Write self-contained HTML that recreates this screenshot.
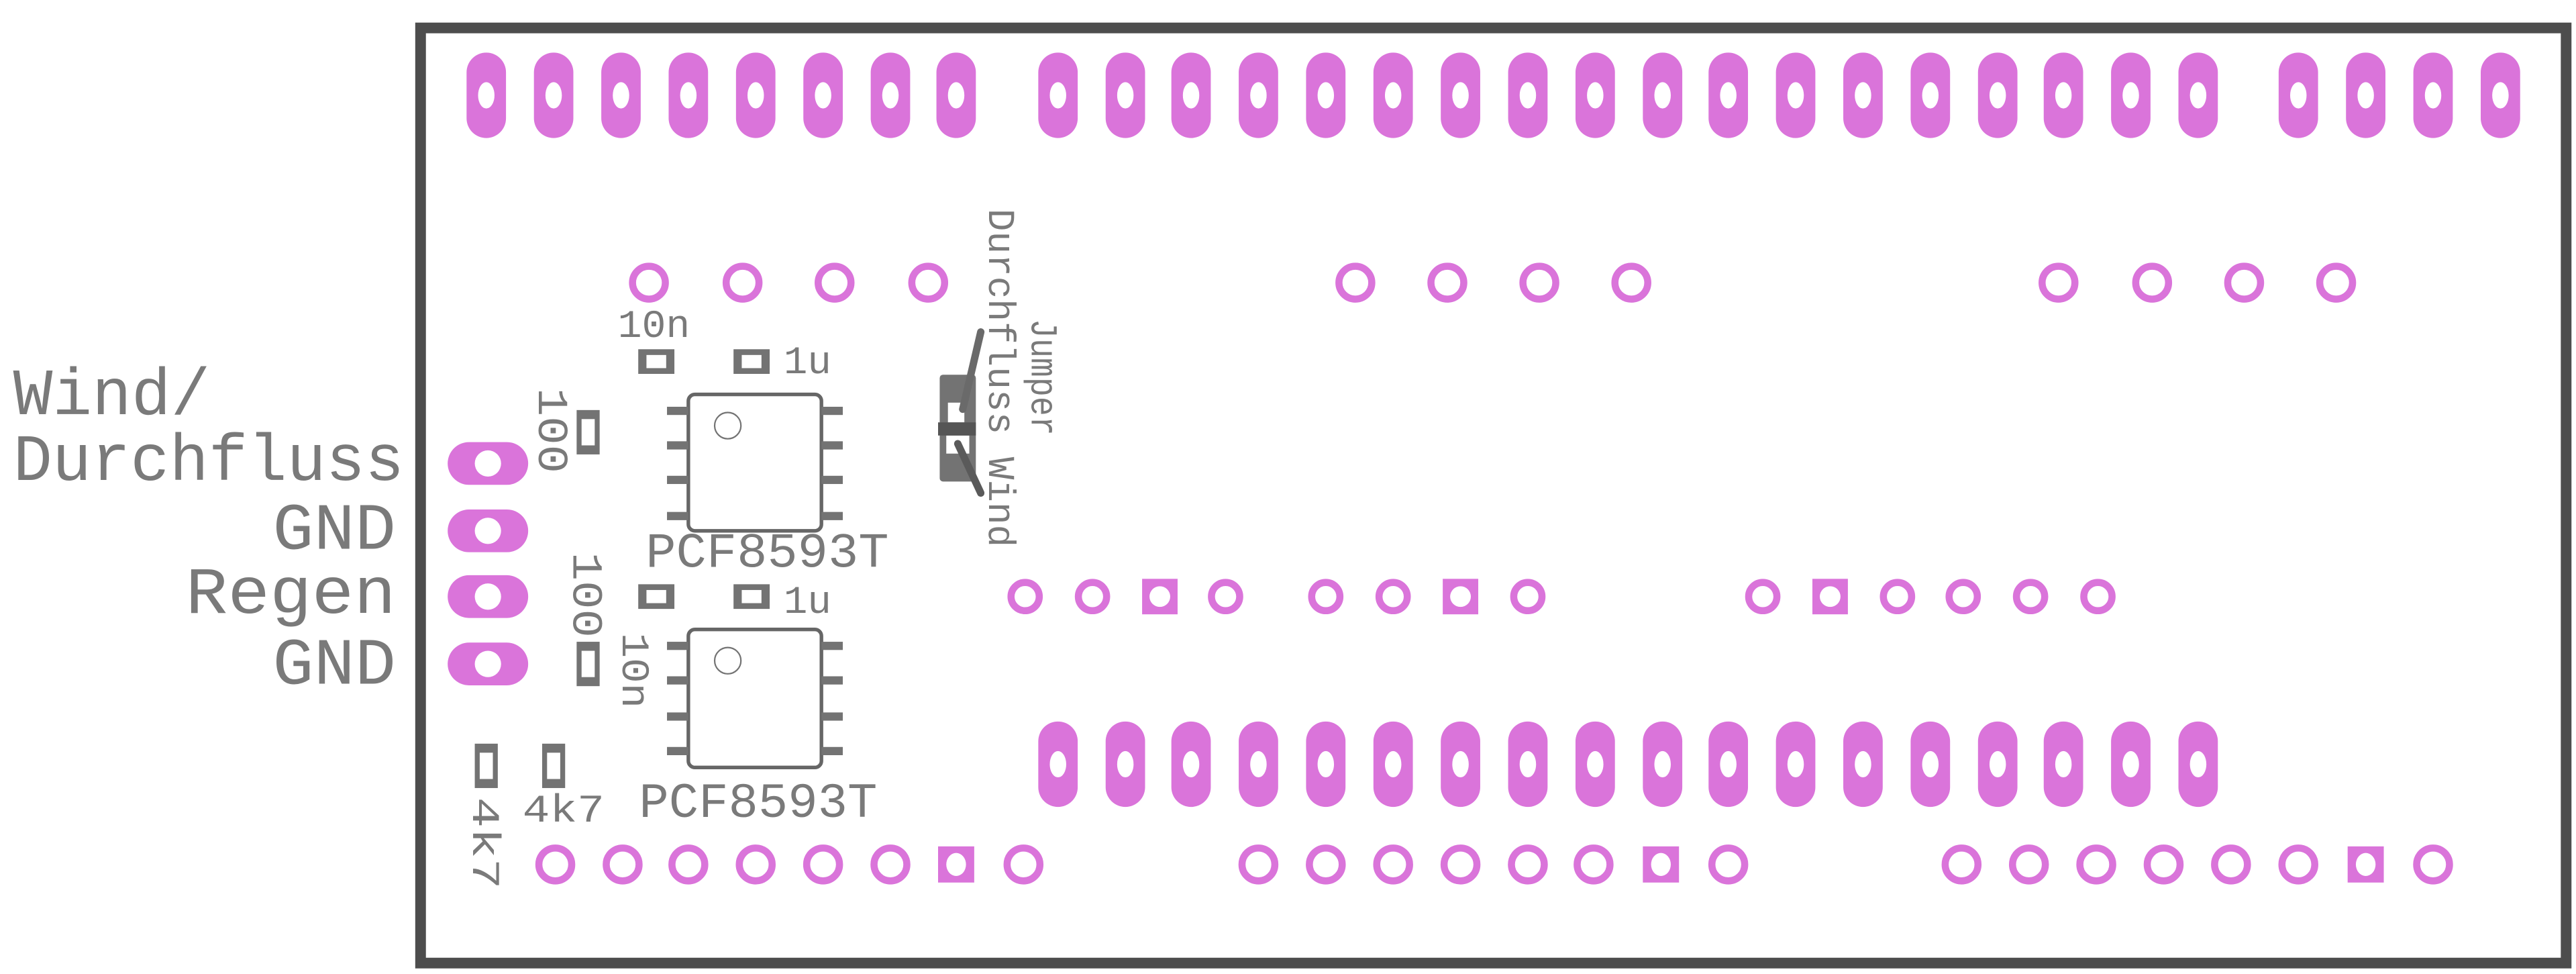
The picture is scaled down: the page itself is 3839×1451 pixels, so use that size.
<!DOCTYPE html>
<html><head><meta charset="utf-8"><style>html,body{margin:0;padding:0;background:#fff}svg{display:block}</style></head>
<body>
<svg width="3839" height="1451" viewBox="0 0 1568 592.65" preserveAspectRatio="none" xmlns="http://www.w3.org/2000/svg">
<defs>
<g id="ov"><rect x="-12" y="-26" width="24" height="52" rx="12" fill="#da74da"/><ellipse cx="0" cy="0" rx="5" ry="8" fill="#fff"/></g>
<g id="rb"><circle r="10" fill="none" stroke="#da74da" stroke-width="4.3"/></g>
<g id="sb"><rect x="-11" y="-11" width="22" height="22" fill="#da74da"/><ellipse rx="6" ry="7" fill="#fff"/></g>
<g id="rs"><circle r="8.6" fill="none" stroke="#da74da" stroke-width="4.3"/></g>
<g id="ss"><rect x="-10.8" y="-10.8" width="21.6" height="21.6" fill="#da74da"/><circle r="6.3" fill="#fff"/></g>
<g id="lp"><rect x="-24.5" y="-13" width="49" height="26" rx="13" fill="#da74da"/><circle r="8" fill="#fff"/></g>
<g id="ch"><rect x="-11" y="-7.5" width="22" height="15" fill="#737373"/><rect x="-6" y="-4" width="12" height="8" fill="#fff"/></g>
<g id="rv"><rect x="-7" y="-13.5" width="14" height="27" fill="#737373"/><rect x="-4" y="-8" width="8" height="16" fill="#fff"/></g>
<g id="ic"><rect x="406" y="-2.5" width="13" height="5" fill="#737373"/></g>
</defs>
<rect x="256" y="17" width="1306" height="569" fill="none" stroke="#4d4d4d" stroke-width="6.5"/>

<g transform="translate(0,58)">
<use href="#ov" x="296"/><use href="#ov" x="337"/><use href="#ov" x="378"/><use href="#ov" x="419"/><use href="#ov" x="460"/><use href="#ov" x="501"/><use href="#ov" x="542"/><use href="#ov" x="582"/>
<use href="#ov" x="644"/><use href="#ov" x="685"/><use href="#ov" x="725"/><use href="#ov" x="766"/><use href="#ov" x="807"/><use href="#ov" x="848"/><use href="#ov" x="889"/><use href="#ov" x="930"/><use href="#ov" x="971"/><use href="#ov" x="1012"/><use href="#ov" x="1052"/><use href="#ov" x="1093"/><use href="#ov" x="1134"/><use href="#ov" x="1175"/><use href="#ov" x="1216"/><use href="#ov" x="1256"/><use href="#ov" x="1297"/><use href="#ov" x="1338"/>
<use href="#ov" x="1399"/><use href="#ov" x="1440"/><use href="#ov" x="1481"/><use href="#ov" x="1522"/>
</g>
<g transform="translate(0,465)">
<use href="#ov" x="644"/><use href="#ov" x="685"/><use href="#ov" x="725"/><use href="#ov" x="766"/><use href="#ov" x="807"/><use href="#ov" x="848"/><use href="#ov" x="889"/><use href="#ov" x="930"/><use href="#ov" x="971"/><use href="#ov" x="1012"/><use href="#ov" x="1052"/><use href="#ov" x="1093"/><use href="#ov" x="1134"/><use href="#ov" x="1175"/><use href="#ov" x="1216"/><use href="#ov" x="1256"/><use href="#ov" x="1297"/><use href="#ov" x="1338"/>
</g>
<g transform="translate(0,172)">
<use href="#rb" x="395"/><use href="#rb" x="452"/><use href="#rb" x="508"/><use href="#rb" x="565"/>
<use href="#rb" x="825"/><use href="#rb" x="881"/><use href="#rb" x="937"/><use href="#rb" x="993"/>
<use href="#rb" x="1253"/><use href="#rb" x="1310"/><use href="#rb" x="1366"/><use href="#rb" x="1422"/>
</g>
<g transform="translate(0,363)">
<use href="#rs" x="624"/><use href="#rs" x="665"/><use href="#ss" x="706"/><use href="#rs" x="746"/>
<use href="#rs" x="807"/><use href="#rs" x="848"/><use href="#ss" x="889"/><use href="#rs" x="930"/>
<use href="#rs" x="1073"/><use href="#ss" x="1114"/><use href="#rs" x="1155"/><use href="#rs" x="1195"/><use href="#rs" x="1236"/><use href="#rs" x="1277"/>
</g>
<g transform="translate(0,526)">
<use href="#rb" x="338"/><use href="#rb" x="379"/><use href="#rb" x="419"/><use href="#rb" x="460"/><use href="#rb" x="501"/><use href="#rb" x="542"/><use href="#sb" x="582"/><use href="#rb" x="623"/>
<use href="#rb" x="766"/><use href="#rb" x="807"/><use href="#rb" x="848"/><use href="#rb" x="889"/><use href="#rb" x="930"/><use href="#rb" x="970"/><use href="#sb" x="1011"/><use href="#rb" x="1052"/>
<use href="#rb" x="1194"/><use href="#rb" x="1235"/><use href="#rb" x="1276"/><use href="#rb" x="1317"/><use href="#rb" x="1358"/><use href="#rb" x="1399"/><use href="#sb" x="1440"/><use href="#rb" x="1481"/>
</g>
<use href="#lp" x="297" y="282"/><use href="#lp" x="297" y="323"/><use href="#lp" x="297" y="363"/><use href="#lp" x="297" y="404"/>

<g font-family="Liberation Mono, monospace" fill="#7a7a7a">
<text x="8" y="252" font-size="40" textLength="120" lengthAdjust="spacingAndGlyphs">Wind/</text>
<text x="8" y="292" font-size="40" textLength="238" lengthAdjust="spacingAndGlyphs">Durchfluss</text>
<text x="166" y="334" font-size="40" textLength="75" lengthAdjust="spacingAndGlyphs">GND</text>
<text x="113" y="373" font-size="40" textLength="128" lengthAdjust="spacingAndGlyphs">Regen</text>
<text x="166" y="416" font-size="40" textLength="75" lengthAdjust="spacingAndGlyphs">GND</text>

<text x="376" y="205" font-size="24" textLength="44" lengthAdjust="spacingAndGlyphs">10n</text>
<text x="477" y="227" font-size="24" textLength="29" lengthAdjust="spacingAndGlyphs">1u</text>
<text x="477" y="373" font-size="24" textLength="29" lengthAdjust="spacingAndGlyphs">1u</text>
<text x="393" y="345" font-size="30" textLength="148" lengthAdjust="spacingAndGlyphs">PCF8593T</text>
<text x="389" y="497" font-size="30" textLength="145" lengthAdjust="spacingAndGlyphs">PCF8593T</text>
<text x="318" y="500" font-size="24" textLength="50" lengthAdjust="spacingAndGlyphs">4k7</text>
<text transform="translate(328,236) rotate(90)" font-size="26" textLength="52" lengthAdjust="spacingAndGlyphs">100</text>
<text transform="translate(349,336) rotate(90)" font-size="26" textLength="52" lengthAdjust="spacingAndGlyphs">100</text>
<text transform="translate(379,385) rotate(90)" font-size="24" textLength="46" lengthAdjust="spacingAndGlyphs">10n</text>
<text transform="translate(288,485) rotate(90)" font-size="24" textLength="56" lengthAdjust="spacingAndGlyphs">4k7</text>
<text transform="translate(602,127) rotate(90)" font-size="23" textLength="206" lengthAdjust="spacingAndGlyphs">Durchfluss Wind</text>
<text transform="translate(628,194) rotate(90)" font-size="23" textLength="71" lengthAdjust="spacingAndGlyphs">Jumper</text>
</g>

<use href="#ch" x="399.5" y="220"/><use href="#ch" x="457.5" y="220"/>
<use href="#ch" x="399.5" y="363"/><use href="#ch" x="457.5" y="363"/>
<use href="#rv" x="358" y="263"/><use href="#rv" x="358" y="404"/>
<use href="#rv" x="296" y="466"/><use href="#rv" x="337" y="466"/>

<g>
<rect x="419" y="240" width="81" height="83" rx="4" fill="#fff" stroke="#666" stroke-width="2.2"/>
<circle cx="443" cy="259" r="8" fill="none" stroke="#737373" stroke-width="0.9"/>
<use href="#ic" y="250"/><use href="#ic" y="271"/><use href="#ic" y="292"/><use href="#ic" y="314"/>
<use href="#ic" x="94" y="250"/><use href="#ic" x="94" y="271"/><use href="#ic" x="94" y="292"/><use href="#ic" x="94" y="314"/>
</g>
<g>
<rect x="419" y="383" width="81" height="84" rx="4" fill="#fff" stroke="#666" stroke-width="2.2"/>
<circle cx="443" cy="402" r="8" fill="none" stroke="#737373" stroke-width="0.9"/>
<use href="#ic" y="393"/><use href="#ic" y="414"/><use href="#ic" y="436"/><use href="#ic" y="457"/>
<use href="#ic" x="94" y="393"/><use href="#ic" x="94" y="414"/><use href="#ic" x="94" y="436"/><use href="#ic" x="94" y="457"/>
</g>

<g>
<rect x="572" y="228" width="22" height="65" rx="2" fill="#737373"/>
<rect x="577" y="245" width="10" height="12" fill="#fff"/>
<rect x="576" y="265" width="14" height="11" fill="#fff"/>
<rect x="571" y="257" width="23" height="8" fill="#555"/>
<line x1="597" y1="202" x2="586" y2="249" stroke="#6a6a6a" stroke-width="4.5" stroke-linecap="round"/>
<line x1="583" y1="270" x2="597" y2="300" stroke="#5a5a5a" stroke-width="4.5" stroke-linecap="round"/>
</g>
</svg>
</body></html>
